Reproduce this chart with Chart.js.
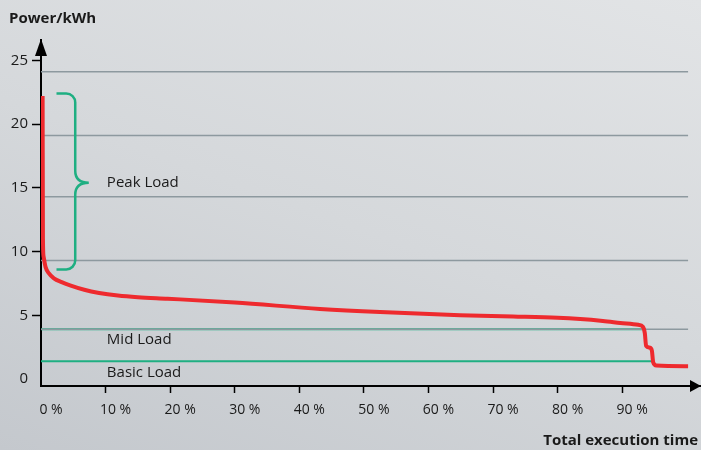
<!DOCTYPE html>
<html>
<head>
<meta charset="utf-8">
<script src="https://cdn.jsdelivr.net/npm/chart.js@4/dist/chart.umd.min.js"></script>
<style>
    html, body { margin: 0; padding: 0; }
    body {
        width: 701px; height: 450px; overflow: hidden;
        background: linear-gradient(200deg, #e2e4e6 0%, #d5d8db 50%, #c4c8cd 100%);
    }
    #wrap { position: relative; width: 701px; height: 450px; }
</style>
</head>
<body>
<div id="wrap"><canvas id="lastChart"></canvas></div>
<script>
// Achsen
const percentTicks = [0, 10, 20, 30, 40, 50, 60, 70, 80, 90];
const powerTicks = [0, 5, 10, 15, 20, 25];

// Lastkurve (Anteil der Laufzeit in %, Leistung in kWh)
const execTime = [0.25, 0.3, 0.4, 0.7, 1.2, 2.0, 3.2, 4.5, 6.7, 9.0, 11.9, 15.0, 19.6, 30.0, 43.2, 52.5, 64.9, 73.1, 80.0, 83.5, 87.0, 89.7, 92.5, 93.2, 93.5, 93.7, 94.3, 94.6, 94.8, 95.3, 100.2];
const power =    [22.2, 11.0, 9.6, 8.8, 8.3, 7.9, 7.6, 7.35, 7.0, 6.75, 6.55, 6.42, 6.3, 6.0, 5.5, 5.25, 5.0, 4.9, 4.8, 4.7, 4.55, 4.4, 4.25, 4.1, 3.6, 2.6, 2.45, 2.2, 1.3, 1.05, 1.0];

// Hilfslinien
const gridLevels = [24.1, 19.1, 14.3, 9.3, 3.9];
const loadLevels = [3.9, 1.4];
const loadLevelEnd = [93.6, 94.8];

// Beschriftungen der Lastbereiche
const loadLabels = ['Peak Load', 'Mid Load', 'Basic Load'];
const loadLabelX = [10.2, 10.2, 10.2];
const loadLabelY = [15.4, 3.1, 0.5];
const peakRange = [8.6, 22.4];

const FONT = '"Open Sans", "Noto Sans", sans-serif';
const ROT = '#ee2a2e';
const GRAU = '#8d999f';
const GRUEN = '#1faf82';

const datasets = [{
    data: execTime.map((x, i) => ({ x: x, y: power[i] })),
    borderColor: ROT,
    borderWidth: 4,
    pointRadius: 0,
    cubicInterpolationMode: 'monotone',
    borderJoinStyle: 'round'
}];
gridLevels.forEach(v => {
    datasets.push({
        data: [{ x: 0, y: v }, { x: 100.2, y: v }],
        borderColor: GRAU,
        borderWidth: 1.5,
        pointRadius: 0
    });
});
loadLevels.forEach((v, i) => {
    datasets.push({
        data: [{ x: 0, y: v }, { x: loadLevelEnd[i], y: v }],
        borderColor: GRUEN,
        borderWidth: 2,
        pointRadius: 0
    });
});

const extras = {
    id: 'extras',
    afterDatasetsDraw(chart) {
        const ctx = chart.ctx;
        const xs = chart.scales.x, ys = chart.scales.y;
        const area = chart.chartArea;
        ctx.save();

        // geschweifte Klammer
        const xL = xs.getPixelForValue(2.4), xR = xs.getPixelForValue(5.3), tip = xs.getPixelForValue(7.4);
        const top = ys.getPixelForValue(peakRange[1]), bottom = ys.getPixelForValue(peakRange[0]);
        const mid = ys.getPixelForValue(loadLabelY[0]);
        ctx.strokeStyle = GRUEN;
        ctx.lineWidth = 2.5;
        ctx.beginPath();
        ctx.moveTo(xL, top);
        ctx.arcTo(xR, top, xR, top + 10, 9);
        ctx.lineTo(xR, mid - 12);
        ctx.quadraticCurveTo(xR, mid, tip, mid);
        ctx.moveTo(tip, mid);
        ctx.quadraticCurveTo(xR, mid, xR, mid + 12);
        ctx.lineTo(xR, bottom - 10);
        ctx.arcTo(xR, bottom, xL, bottom, 9);
        ctx.lineTo(xL, bottom);
        ctx.stroke();

        // Texte
        ctx.fillStyle = '#1a1a1a';
        ctx.font = '15px ' + FONT;
        ctx.textBaseline = 'middle';
        ctx.textAlign = 'left';
        loadLabels.forEach((t, i) => {
            ctx.fillText(t, xs.getPixelForValue(loadLabelX[i]), ys.getPixelForValue(loadLabelY[i]));
        });
        ctx.font = 'bold 15px ' + FONT;
        ctx.fillText('Power/kWh', 9, 19);
        ctx.textAlign = 'right';
        ctx.fillText('Total execution time', 698, 441);

        // Pfeilspitzen
        ctx.fillStyle = '#000';
        ctx.beginPath();
        ctx.moveTo(area.left, area.top - 1);
        ctx.lineTo(area.left - 6, area.top + 16);
        ctx.lineTo(area.left + 6, area.top + 16);
        ctx.closePath();
        ctx.fill();
        ctx.beginPath();
        ctx.moveTo(area.right, area.bottom);
        ctx.lineTo(area.right - 11, area.bottom - 6);
        ctx.lineTo(area.right - 11, area.bottom + 6);
        ctx.closePath();
        ctx.fill();
        ctx.restore();
    }
};

new Chart(document.getElementById('lastChart'), {
    type: 'line',
    data: { datasets: datasets },
    options: {
        responsive: true,
        maintainAspectRatio: false,
        animation: false,
        layout: { padding: { top: 40, right: 0, left: 0, bottom: 0 } },
        plugins: {
            legend: { display: false },
            tooltip: { enabled: false }
        },
        scales: {
            x: {
                type: 'linear',
                min: 0,
                max: 102.2,
                afterFit: scale => { scale.height = 64; },
                afterBuildTicks: axis => { axis.ticks = percentTicks.map(v => ({ value: v })); },
                grid: {
                    drawOnChartArea: false,
                    tickLength: 7,
                    tickWidth: 1.5,
                    color: c => (c.tick && c.tick.value === 0) ? 'rgba(0,0,0,0)' : '#000'
                },
                border: { color: '#000', width: 2 },
                ticks: {
                    color: '#1a1a1a',
                    font: { family: FONT, size: 14 },
                    padding: 9,
                    labelOffset: 10,
                    maxRotation: 0,
                    callback: v => v + ' %'
                }
            },
            y: {
                min: -0.55,
                max: 26.6,
                afterFit: scale => { scale.width = 41; },
                afterBuildTicks: axis => { axis.ticks = powerTicks.map(v => ({ value: v })); },
                grid: {
                    drawOnChartArea: false,
                    tickLength: 9,
                    tickWidth: 1.5,
                    color: c => (c.tick && c.tick.value === 0) ? 'rgba(0,0,0,0)' : '#000'
                },
                border: { color: '#000', width: 2 },
                ticks: {
                    color: '#1a1a1a',
                    font: { family: FONT, size: 15 },
                    padding: 4
                }
            }
        }
    },
    plugins: [extras]
});
</script>
</body>
</html>
